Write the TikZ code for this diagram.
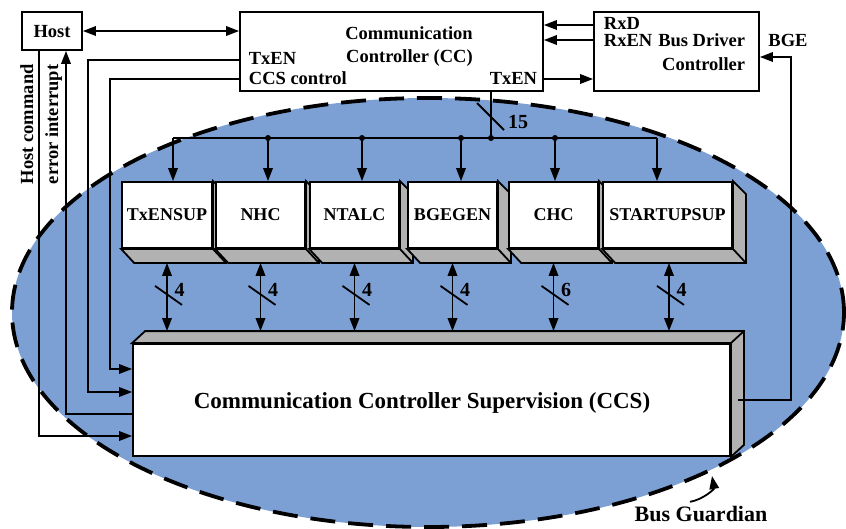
\documentclass[tikz,border=0pt]{standalone}
\usepackage{fontspec}
\setmainfont{Liberation Serif}
\usetikzlibrary{arrows.meta}
\definecolor{bgblue}{RGB}{124,160,212}
\definecolor{shadegray}{RGB}{178,178,178}
\newcommand{\boxshade}[1]{%
  \filldraw[fill=shadegray, line join=miter] (#1.north east) -- ++(13,13) -- ([shift={(13,14)}]#1.south east)
    -- ([shift={(13,14)}]#1.south west) -- (#1.south west) -- (#1.south east) -- cycle;
  \draw (#1.south east) -- ++(13,14);}
\begin{document}
\begin{tikzpicture}[x=1pt,y=-1pt,
  line width=1.8pt,
  font=\fontsize{18.5}{21}\selectfont\bfseries,
  arr/.style={-{Triangle[length=13pt,width=9.5pt]}},
  darr/.style={{Triangle[length=13pt,width=9.5pt]}-{Triangle[length=13pt,width=9.5pt]}},
  plainbox/.style={draw, fill=white, inner sep=0pt},
  sbox/.style={draw, fill=white, inner sep=0pt, minimum height=66pt, font=\fontsize{18}{21}\selectfont\bfseries},
  lbl/.style={inner sep=0pt},
  numlbl/.style={inner sep=0pt, font=\fontsize{20}{22}\selectfont\bfseries},
]
\useasboundingbox (0,0) rectangle (846,528);
% Bus Guardian ellipse
\fill[bgblue] (428,312.5) ellipse [x radius=416pt, y radius=214.5pt];
\draw[line width=3.8pt, dash pattern=on 25pt off 13pt] (428,312.5) ellipse [x radius=416pt, y radius=214.5pt];

% top boxes
\node[plainbox, minimum width=60pt, minimum height=38pt] (host) at (52,31) {};
\node[lbl, anchor=base] (hostt) at (52,37) {Host};
\node[plainbox, minimum width=303pt, minimum height=79pt] (cc) at (391.5,51.5) {};
\node[plainbox, minimum width=165pt, minimum height=79pt] (bdc) at (676.5,51.5) {};

\node[lbl, anchor=base] (cct1) at (409,39) {Communication};
\node[lbl, anchor=base] (cct2) at (409.5,62) {Controller (CC)};
\node[lbl, anchor=base west] (cctx) at (248,64) {TxEN};
\node[lbl, anchor=base west] (ccsc) at (248,84) {CCS control};
\node[lbl, anchor=base east] (cctx2) at (538,84) {TxEN};

\node[lbl, anchor=base west] (rxd) at (603,29) {RxD};
\node[lbl, anchor=base west] (rxen) at (603,46) {RxEN};
\node[lbl, anchor=base east] (bdt1) at (746,46) {Bus Driver};
\node[lbl, anchor=base east] (bdt2) at (746,70) {Controller};
\node[lbl, anchor=base] (bge) at (788,46) {BGE};

\node[lbl, rotate=90, anchor=base west] (hcmd) at (33,185) {Host command};
\node[lbl, rotate=90, anchor=base west] (eint) at (58,185) {error interrupt};

% CCS box
\node[plainbox, minimum width=597pt, minimum height=112pt] (ccs) at (431.5,400) {};
\filldraw[fill=shadegray, line join=miter] (ccs.north west) -- ++(13,-12) -- ([shift={(13,-12)}]ccs.north east)
  -- ([shift={(13,-12)}]ccs.south east) -- (ccs.south east) -- (ccs.north east) -- cycle;
\draw (ccs.north east) -- ++(13,-12);
\node[lbl, anchor=base, font=\fontsize{23}{27}\selectfont\bfseries] (ccst) at (422,408) {Communication Controller Supervision (CCS)};
\coordinate (ccstop) at ([yshift=12pt]ccs.north);

% small boxes
\node[sbox, minimum width=90pt] (b1) at (167,215) {TxENSUP}; \boxshade{b1}
\node[sbox, minimum width=89pt] (b2) at (260.5,215) {NHC}; \boxshade{b2}
\node[sbox, minimum width=89pt] (b3) at (354.5,215) {NTALC}; \boxshade{b3}
\node[sbox, minimum width=89pt] (b4) at (452.5,215) {BGEGEN}; \boxshade{b4}
\node[sbox, minimum width=89pt] (b5) at (553.5,215) {CHC}; \boxshade{b5}
\node[sbox, minimum width=129pt] (b6) at (667.5,215) {STARTUPSUP}; \boxshade{b6}

% bus from CC
\coordinate (busL) at (173,138);
\coordinate (busR) at (657,138);
\coordinate (j2) at (268,138);
\coordinate (j3) at (362,138);
\coordinate (j4) at (461,138);
\coordinate (bj) at (491,138);
\coordinate (j5) at (555,138);
\draw (busL) -- (busR);
\draw ([xshift=99.5pt]cc.south) -- (bj);
\draw (477,103) -- (504,130);
\node[numlbl, anchor=base] (n15) at (518,128) {15};
\foreach \j in {j2,j3,j4,bj,j5} \fill (\j) circle (3pt);
\draw[arr] (busL) -- (busL |- b1.north);
\draw[arr] (j2) -- (j2 |- b2.north);
\draw[arr] (j3) -- (j3 |- b3.north);
\draw[arr] (j4) -- (j4 |- b4.north);
\draw[arr] (j5) -- (j5 |- b5.north);
\draw[arr] (busR) -- (busR |- b6.north);

% box <-> CCS
\foreach \b/\n/\dx in {b1/4/0, b2/4/0, b3/4/0, b4/4/0, b5/6/0, b6/4/1.5} {
  \coordinate (top\b) at ([xshift=\dx pt, yshift=-14pt]\b.south);
  \draw[darr] (top\b) -- (top\b |- ccstop);
  \coordinate (mid\b) at ([yshift=-32.5pt]top\b);
  \draw ([shift={(-12,-9.5)}]mid\b) -- ([shift={(15,9.5)}]mid\b);
  \node[numlbl, anchor=base] (lab\b) at ([shift={(12.5,1.5)}]mid\b) {\n};
}

% connectors top
\draw[darr] (host.east) -- (host.east -| cc.west);
\draw[arr] ([yshift=26.5pt]bdc.west) -- ([yshift=26.5pt]cc.east);
\draw[arr] ([yshift=11.5pt]bdc.west) -- ([yshift=11.5pt]cc.east);
\draw[arr] ([yshift=-27.5pt]cc.east) -- ([yshift=-27.5pt]bdc.west);

% connectors left
\draw[arr] ([yshift=-8.5pt]cc.west) -| ([xshift=-44pt, yshift=8pt]ccs.west) -- ([yshift=8pt]ccs.west);
\draw[arr] ([yshift=-27.5pt]cc.west) -| ([xshift=-22pt, yshift=31pt]ccs.west) -- ([yshift=31pt]ccs.west);
\draw[arr] ([xshift=-13pt]host.south) |- ([yshift=-36pt]ccs.west);
\draw[arr] ([yshift=-14pt]ccs.west) -| ([xshift=14pt]host.south);

% BGE
\draw[arr] ([xshift=7pt]ccs.east) -| ([xshift=31pt, yshift=-5.5pt]bdc.east) -- ([yshift=-5.5pt]bdc.east);

% Bus Guardian label
\node[lbl, anchor=base, font=\fontsize{22}{24}\selectfont\bfseries] (bg) at (701,521) {Bus Guardian};
\coordinate (bgtip) at (712,476);
\draw[arr] ([shift={(-11,-3)}]bg.north) to[out=10, in=-80] (bgtip);
\end{tikzpicture}
\end{document}
